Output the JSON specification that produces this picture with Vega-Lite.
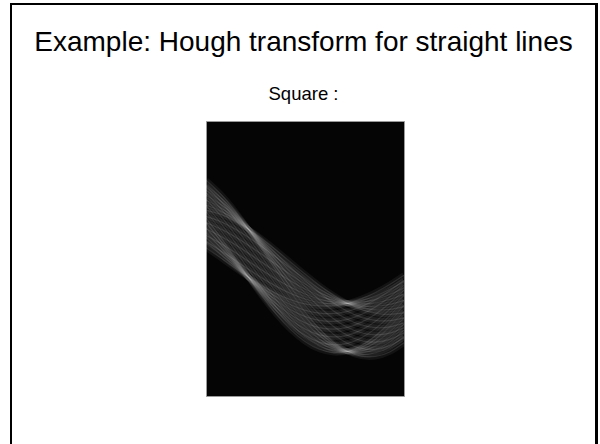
{
  "$schema": "https://vega.github.io/schema/vega-lite/v6.json",
  "width": 198,
  "height": 275,
  "autosize": "none",
  "padding": {"left": 206, "top": 121, "right": 196, "bottom": 48},
  "background": "white",
  "title": {
    "text": "Example: Hough transform for straight lines",
    "subtitle": "Square :",
    "anchor": "middle",
    "frame": "bounds",
    "orient": "top",
    "offset": -100,
    "font": "Liberation Sans",
    "fontSize": 28,
    "fontWeight": "normal",
    "color": "black",
    "subtitleFont": "Liberation Sans",
    "subtitleFontSize": 18.5,
    "subtitleColor": "black",
    "subtitlePadding": 28
  },
  "config": {
    "view": {"fill": "#050505", "stroke": "#9a9a9a", "strokeWidth": 1}
  },
  "data": {
    "values": [
      {"curve": 1, "theta": 0, "rho": 48.34}, {"curve": 1, "theta": 13, "rho": 44.2}, {"curve": 1, "theta": 26, "rho": 37.63}, {"curve": 1, "theta": 38.5, "rho": 29.35}, {"curve": 1, "theta": 51, "rho": 19.53}, {"curve": 1, "theta": 64, "rho": 8.2}, {"curve": 1, "theta": 77, "rho": -3.71}, {"curve": 1, "theta": 90, "rho": -15.58}, {"curve": 1, "theta": 103, "rho": -26.81}, {"curve": 1, "theta": 116, "rho": -36.81}, {"curve": 1, "theta": 128.5, "rho": -44.8}, {"curve": 1, "theta": 141, "rho": -50.81}, {"curve": 1, "theta": 154, "rho": -54.66}, {"curve": 1, "theta": 167, "rho": -55.86}, {"curve": 1, "theta": 180, "rho": -54.34},
      {"curve": 2, "theta": 0, "rho": 53.32}, {"curve": 2, "theta": 13, "rho": 47.64}, {"curve": 2, "theta": 26, "rho": 39.36}, {"curve": 2, "theta": 38.5, "rho": 29.35}, {"curve": 2, "theta": 51, "rho": 17.8}, {"curve": 2, "theta": 64, "rho": 4.76}, {"curve": 2, "theta": 77, "rho": -8.69}, {"curve": 2, "theta": 90, "rho": -21.84}, {"curve": 2, "theta": 103, "rho": -34.03}, {"curve": 2, "theta": 116, "rho": -44.62}, {"curve": 2, "theta": 128.5, "rho": -52.8}, {"curve": 2, "theta": 141, "rho": -58.62}, {"curve": 2, "theta": 154, "rho": -61.88}, {"curve": 2, "theta": 167, "rho": -62.12}, {"curve": 2, "theta": 180, "rho": -59.32},
      {"curve": 3, "theta": 0, "rho": 58.3}, {"curve": 3, "theta": 13, "rho": 51.09}, {"curve": 3, "theta": 26, "rho": 41.09}, {"curve": 3, "theta": 38.5, "rho": 29.35}, {"curve": 3, "theta": 51, "rho": 16.07}, {"curve": 3, "theta": 64, "rho": 1.31}, {"curve": 3, "theta": 77, "rho": -13.67}, {"curve": 3, "theta": 90, "rho": -28.1}, {"curve": 3, "theta": 103, "rho": -41.25}, {"curve": 3, "theta": 116, "rho": -52.43}, {"curve": 3, "theta": 128.5, "rho": -60.8}, {"curve": 3, "theta": 141, "rho": -66.43}, {"curve": 3, "theta": 154, "rho": -69.1}, {"curve": 3, "theta": 167, "rho": -68.38}, {"curve": 3, "theta": 180, "rho": -64.3},
      {"curve": 4, "theta": 0, "rho": 63.28}, {"curve": 4, "theta": 13, "rho": 54.53}, {"curve": 4, "theta": 26, "rho": 42.83}, {"curve": 4, "theta": 38.5, "rho": 29.35}, {"curve": 4, "theta": 51, "rho": 14.34}, {"curve": 4, "theta": 64, "rho": -2.13}, {"curve": 4, "theta": 77, "rho": -18.65}, {"curve": 4, "theta": 90, "rho": -34.36}, {"curve": 4, "theta": 103, "rho": -48.47}, {"curve": 4, "theta": 116, "rho": -60.24}, {"curve": 4, "theta": 128.5, "rho": -68.8}, {"curve": 4, "theta": 141, "rho": -74.24}, {"curve": 4, "theta": 154, "rho": -76.32}, {"curve": 4, "theta": 167, "rho": -74.64}, {"curve": 4, "theta": 180, "rho": -69.28},
      {"curve": 5, "theta": 0, "rho": 68.26}, {"curve": 5, "theta": 13, "rho": 57.98}, {"curve": 5, "theta": 26, "rho": 44.56}, {"curve": 5, "theta": 38.5, "rho": 29.35}, {"curve": 5, "theta": 51, "rho": 12.61}, {"curve": 5, "theta": 64, "rho": -5.57}, {"curve": 5, "theta": 77, "rho": -23.63}, {"curve": 5, "theta": 90, "rho": -40.62}, {"curve": 5, "theta": 103, "rho": -55.69}, {"curve": 5, "theta": 116, "rho": -68.05}, {"curve": 5, "theta": 128.5, "rho": -76.8}, {"curve": 5, "theta": 141, "rho": -82.05}, {"curve": 5, "theta": 154, "rho": -83.54}, {"curve": 5, "theta": 167, "rho": -80.9}, {"curve": 5, "theta": 180, "rho": -74.26},
      {"curve": 6, "theta": 0, "rho": 73.24}, {"curve": 6, "theta": 13, "rho": 61.42}, {"curve": 6, "theta": 26, "rho": 46.29}, {"curve": 6, "theta": 38.5, "rho": 29.35}, {"curve": 6, "theta": 51, "rho": 10.88}, {"curve": 6, "theta": 64, "rho": -9.02}, {"curve": 6, "theta": 77, "rho": -28.61}, {"curve": 6, "theta": 90, "rho": -46.88}, {"curve": 6, "theta": 103, "rho": -62.91}, {"curve": 6, "theta": 116, "rho": -75.86}, {"curve": 6, "theta": 128.5, "rho": -84.8}, {"curve": 6, "theta": 141, "rho": -89.86}, {"curve": 6, "theta": 154, "rho": -90.76}, {"curve": 6, "theta": 167, "rho": -87.17}, {"curve": 6, "theta": 180, "rho": -79.24},
      {"curve": 7, "theta": 0, "rho": 78.22}, {"curve": 7, "theta": 13, "rho": 64.86}, {"curve": 7, "theta": 26, "rho": 48.02}, {"curve": 7, "theta": 38.5, "rho": 29.35}, {"curve": 7, "theta": 51, "rho": 9.14}, {"curve": 7, "theta": 64, "rho": -12.46}, {"curve": 7, "theta": 77, "rho": -33.58}, {"curve": 7, "theta": 90, "rho": -53.14}, {"curve": 7, "theta": 103, "rho": -70.13}, {"curve": 7, "theta": 116, "rho": -83.66}, {"curve": 7, "theta": 128.5, "rho": -92.8}, {"curve": 7, "theta": 141, "rho": -97.66}, {"curve": 7, "theta": 154, "rho": -97.98}, {"curve": 7, "theta": 167, "rho": -93.43}, {"curve": 7, "theta": 180, "rho": -84.22},
      {"curve": 8, "theta": 0, "rho": 10.78}, {"curve": 8, "theta": 13, "rho": 0.88}, {"curve": 8, "theta": 26, "rho": -9.23}, {"curve": 8, "theta": 38.5, "rho": -18.65}, {"curve": 8, "theta": 51, "rho": -27.32}, {"curve": 8, "theta": 64, "rho": -35.12}, {"curve": 8, "theta": 77, "rho": -41.28}, {"curve": 8, "theta": 90, "rho": -45.46}, {"curve": 8, "theta": 103, "rho": -47.47}, {"curve": 8, "theta": 116, "rho": -47.2}, {"curve": 8, "theta": 128.5, "rho": -44.8}, {"curve": 8, "theta": 141, "rho": -40.42}, {"curve": 8, "theta": 154, "rho": -34.0}, {"curve": 8, "theta": 167, "rho": -25.99}, {"curve": 8, "theta": 180, "rho": -16.78},
      {"curve": 9, "theta": 0, "rho": 15.76}, {"curve": 9, "theta": 13, "rho": 4.32}, {"curve": 9, "theta": 26, "rho": -7.5}, {"curve": 9, "theta": 38.5, "rho": -18.65}, {"curve": 9, "theta": 51, "rho": -29.05}, {"curve": 9, "theta": 64, "rho": -38.56}, {"curve": 9, "theta": 77, "rho": -46.26}, {"curve": 9, "theta": 90, "rho": -51.72}, {"curve": 9, "theta": 103, "rho": -54.69}, {"curve": 9, "theta": 116, "rho": -55.01}, {"curve": 9, "theta": 128.5, "rho": -52.8}, {"curve": 9, "theta": 141, "rho": -48.23}, {"curve": 9, "theta": 154, "rho": -41.22}, {"curve": 9, "theta": 167, "rho": -32.25}, {"curve": 9, "theta": 180, "rho": -21.76},
      {"curve": 10, "theta": 0, "rho": 20.74}, {"curve": 10, "theta": 13, "rho": 7.77}, {"curve": 10, "theta": 26, "rho": -5.77}, {"curve": 10, "theta": 38.5, "rho": -18.65}, {"curve": 10, "theta": 51, "rho": -30.78}, {"curve": 10, "theta": 64, "rho": -42.01}, {"curve": 10, "theta": 77, "rho": -51.24}, {"curve": 10, "theta": 90, "rho": -57.98}, {"curve": 10, "theta": 103, "rho": -61.91}, {"curve": 10, "theta": 116, "rho": -62.82}, {"curve": 10, "theta": 128.5, "rho": -60.8}, {"curve": 10, "theta": 141, "rho": -56.04}, {"curve": 10, "theta": 154, "rho": -48.44}, {"curve": 10, "theta": 167, "rho": -38.51}, {"curve": 10, "theta": 180, "rho": -26.74},
      {"curve": 11, "theta": 0, "rho": 25.72}, {"curve": 11, "theta": 13, "rho": 11.21}, {"curve": 11, "theta": 26, "rho": -4.03}, {"curve": 11, "theta": 38.5, "rho": -18.65}, {"curve": 11, "theta": 51, "rho": -32.51}, {"curve": 11, "theta": 64, "rho": -45.45}, {"curve": 11, "theta": 77, "rho": -56.22}, {"curve": 11, "theta": 90, "rho": -64.24}, {"curve": 11, "theta": 103, "rho": -69.13}, {"curve": 11, "theta": 116, "rho": -70.63}, {"curve": 11, "theta": 128.5, "rho": -68.8}, {"curve": 11, "theta": 141, "rho": -63.85}, {"curve": 11, "theta": 154, "rho": -55.66}, {"curve": 11, "theta": 167, "rho": -44.77}, {"curve": 11, "theta": 180, "rho": -31.72},
      {"curve": 12, "theta": 0, "rho": 30.7}, {"curve": 12, "theta": 13, "rho": 14.66}, {"curve": 12, "theta": 26, "rho": -2.3}, {"curve": 12, "theta": 38.5, "rho": -18.65}, {"curve": 12, "theta": 51, "rho": -34.24}, {"curve": 12, "theta": 64, "rho": -48.89}, {"curve": 12, "theta": 77, "rho": -61.2}, {"curve": 12, "theta": 90, "rho": -70.5}, {"curve": 12, "theta": 103, "rho": -76.35}, {"curve": 12, "theta": 116, "rho": -78.44}, {"curve": 12, "theta": 128.5, "rho": -76.8}, {"curve": 12, "theta": 141, "rho": -71.66}, {"curve": 12, "theta": 154, "rho": -62.88}, {"curve": 12, "theta": 167, "rho": -51.03}, {"curve": 12, "theta": 180, "rho": -36.7},
      {"curve": 13, "theta": 0, "rho": 35.68}, {"curve": 13, "theta": 13, "rho": 18.1}, {"curve": 13, "theta": 26, "rho": -0.57}, {"curve": 13, "theta": 38.5, "rho": -18.65}, {"curve": 13, "theta": 51, "rho": -35.97}, {"curve": 13, "theta": 64, "rho": -52.34}, {"curve": 13, "theta": 77, "rho": -66.18}, {"curve": 13, "theta": 90, "rho": -76.76}, {"curve": 13, "theta": 103, "rho": -83.57}, {"curve": 13, "theta": 116, "rho": -86.25}, {"curve": 13, "theta": 128.5, "rho": -84.8}, {"curve": 13, "theta": 141, "rho": -79.47}, {"curve": 13, "theta": 154, "rho": -70.1}, {"curve": 13, "theta": 167, "rho": -57.3}, {"curve": 13, "theta": 180, "rho": -41.68},
      {"curve": 14, "theta": 0, "rho": 40.66}, {"curve": 14, "theta": 13, "rho": 21.54}, {"curve": 14, "theta": 26, "rho": 1.16}, {"curve": 14, "theta": 38.5, "rho": -18.65}, {"curve": 14, "theta": 51, "rho": -37.71}, {"curve": 14, "theta": 64, "rho": -55.78}, {"curve": 14, "theta": 77, "rho": -71.15}, {"curve": 14, "theta": 90, "rho": -83.02}, {"curve": 14, "theta": 103, "rho": -90.79}, {"curve": 14, "theta": 116, "rho": -94.05}, {"curve": 14, "theta": 128.5, "rho": -92.8}, {"curve": 14, "theta": 141, "rho": -87.27}, {"curve": 14, "theta": 154, "rho": -77.32}, {"curve": 14, "theta": 167, "rho": -63.56}, {"curve": 14, "theta": 180, "rho": -46.66},
      {"curve": 15, "theta": 0, "rho": 42.08}, {"curve": 15, "theta": 13, "rho": 36.98}, {"curve": 15, "theta": 26, "rho": 29.82}, {"curve": 15, "theta": 38.5, "rho": 21.35}, {"curve": 15, "theta": 51, "rho": 11.72}, {"curve": 15, "theta": 64, "rho": 0.98}, {"curve": 15, "theta": 77, "rho": -9.97}, {"curve": 15, "theta": 90, "rho": -20.56}, {"curve": 15, "theta": 103, "rho": -30.25}, {"curve": 15, "theta": 116, "rho": -38.54}, {"curve": 15, "theta": 128.5, "rho": -44.8}, {"curve": 15, "theta": 141, "rho": -49.08}, {"curve": 15, "theta": 154, "rho": -51.22}, {"curve": 15, "theta": 167, "rho": -50.88}, {"curve": 15, "theta": 180, "rho": -48.08},
      {"curve": 16, "theta": 0, "rho": 35.82}, {"curve": 16, "theta": 13, "rho": 29.76}, {"curve": 16, "theta": 26, "rho": 22.01}, {"curve": 16, "theta": 38.5, "rho": 13.35}, {"curve": 16, "theta": 51, "rho": 3.91}, {"curve": 16, "theta": 64, "rho": -6.24}, {"curve": 16, "theta": 77, "rho": -16.23}, {"curve": 16, "theta": 90, "rho": -25.54}, {"curve": 16, "theta": 103, "rho": -33.7}, {"curve": 16, "theta": 116, "rho": -40.27}, {"curve": 16, "theta": 128.5, "rho": -44.8}, {"curve": 16, "theta": 141, "rho": -47.35}, {"curve": 16, "theta": 154, "rho": -47.77}, {"curve": 16, "theta": 167, "rho": -45.9}, {"curve": 16, "theta": 180, "rho": -41.82},
      {"curve": 17, "theta": 0, "rho": 29.56}, {"curve": 17, "theta": 13, "rho": 22.54}, {"curve": 17, "theta": 26, "rho": 14.2}, {"curve": 17, "theta": 38.5, "rho": 5.35}, {"curve": 17, "theta": 51, "rho": -3.9}, {"curve": 17, "theta": 64, "rho": -13.46}, {"curve": 17, "theta": 77, "rho": -22.49}, {"curve": 17, "theta": 90, "rho": -30.52}, {"curve": 17, "theta": 103, "rho": -37.14}, {"curve": 17, "theta": 116, "rho": -42.01}, {"curve": 17, "theta": 128.5, "rho": -44.8}, {"curve": 17, "theta": 141, "rho": -45.62}, {"curve": 17, "theta": 154, "rho": -44.33}, {"curve": 17, "theta": 167, "rho": -40.92}, {"curve": 17, "theta": 180, "rho": -35.56},
      {"curve": 18, "theta": 0, "rho": 23.3}, {"curve": 18, "theta": 13, "rho": 15.32}, {"curve": 18, "theta": 26, "rho": 6.39}, {"curve": 18, "theta": 38.5, "rho": -2.65}, {"curve": 18, "theta": 51, "rho": -11.71}, {"curve": 18, "theta": 64, "rho": -20.68}, {"curve": 18, "theta": 77, "rho": -28.75}, {"curve": 18, "theta": 90, "rho": -35.5}, {"curve": 18, "theta": 103, "rho": -40.59}, {"curve": 18, "theta": 116, "rho": -43.74}, {"curve": 18, "theta": 128.5, "rho": -44.8}, {"curve": 18, "theta": 141, "rho": -43.89}, {"curve": 18, "theta": 154, "rho": -40.89}, {"curve": 18, "theta": 167, "rho": -35.94}, {"curve": 18, "theta": 180, "rho": -29.3},
      {"curve": 19, "theta": 0, "rho": 17.04}, {"curve": 19, "theta": 13, "rho": 8.1}, {"curve": 19, "theta": 26, "rho": -1.42}, {"curve": 19, "theta": 38.5, "rho": -10.65}, {"curve": 19, "theta": 51, "rho": -19.52}, {"curve": 19, "theta": 64, "rho": -27.9}, {"curve": 19, "theta": 77, "rho": -35.02}, {"curve": 19, "theta": 90, "rho": -40.48}, {"curve": 19, "theta": 103, "rho": -44.03}, {"curve": 19, "theta": 116, "rho": -45.47}, {"curve": 19, "theta": 128.5, "rho": -44.8}, {"curve": 19, "theta": 141, "rho": -42.16}, {"curve": 19, "theta": 154, "rho": -37.44}, {"curve": 19, "theta": 167, "rho": -30.96}, {"curve": 19, "theta": 180, "rho": -23.04},
      {"curve": 20, "theta": 0, "rho": 71.96}, {"curve": 20, "theta": 13, "rho": 57.64}, {"curve": 20, "theta": 26, "rho": 40.21}, {"curve": 20, "theta": 38.5, "rho": 21.35}, {"curve": 20, "theta": 51, "rho": 1.33}, {"curve": 20, "theta": 64, "rho": -19.68}, {"curve": 20, "theta": 77, "rho": -39.84}, {"curve": 20, "theta": 90, "rho": -58.12}, {"curve": 20, "theta": 103, "rho": -73.57}, {"curve": 20, "theta": 116, "rho": -85.39}, {"curve": 20, "theta": 128.5, "rho": -92.8}, {"curve": 20, "theta": 141, "rho": -95.93}, {"curve": 20, "theta": 154, "rho": -94.54}, {"curve": 20, "theta": 167, "rho": -88.45}, {"curve": 20, "theta": 180, "rho": -77.96},
      {"curve": 21, "theta": 0, "rho": 65.7}, {"curve": 21, "theta": 13, "rho": 50.42}, {"curve": 21, "theta": 26, "rho": 32.4}, {"curve": 21, "theta": 38.5, "rho": 13.35}, {"curve": 21, "theta": 51, "rho": -6.48}, {"curve": 21, "theta": 64, "rho": -26.9}, {"curve": 21, "theta": 77, "rho": -46.1}, {"curve": 21, "theta": 90, "rho": -63.1}, {"curve": 21, "theta": 103, "rho": -77.02}, {"curve": 21, "theta": 116, "rho": -87.12}, {"curve": 21, "theta": 128.5, "rho": -92.8}, {"curve": 21, "theta": 141, "rho": -94.2}, {"curve": 21, "theta": 154, "rho": -91.09}, {"curve": 21, "theta": 167, "rho": -83.47}, {"curve": 21, "theta": 180, "rho": -71.7},
      {"curve": 22, "theta": 0, "rho": 59.44}, {"curve": 22, "theta": 13, "rho": 43.2}, {"curve": 22, "theta": 26, "rho": 24.59}, {"curve": 22, "theta": 38.5, "rho": 5.35}, {"curve": 22, "theta": 51, "rho": -14.29}, {"curve": 22, "theta": 64, "rho": -34.12}, {"curve": 22, "theta": 77, "rho": -52.36}, {"curve": 22, "theta": 90, "rho": -68.08}, {"curve": 22, "theta": 103, "rho": -80.46}, {"curve": 22, "theta": 116, "rho": -88.86}, {"curve": 22, "theta": 128.5, "rho": -92.8}, {"curve": 22, "theta": 141, "rho": -92.47}, {"curve": 22, "theta": 154, "rho": -87.65}, {"curve": 22, "theta": 167, "rho": -78.49}, {"curve": 22, "theta": 180, "rho": -65.44},
      {"curve": 23, "theta": 0, "rho": 53.18}, {"curve": 23, "theta": 13, "rho": 35.98}, {"curve": 23, "theta": 26, "rho": 16.78}, {"curve": 23, "theta": 38.5, "rho": -2.65}, {"curve": 23, "theta": 51, "rho": -22.1}, {"curve": 23, "theta": 64, "rho": -41.34}, {"curve": 23, "theta": 77, "rho": -58.62}, {"curve": 23, "theta": 90, "rho": -73.06}, {"curve": 23, "theta": 103, "rho": -83.91}, {"curve": 23, "theta": 116, "rho": -90.59}, {"curve": 23, "theta": 128.5, "rho": -92.8}, {"curve": 23, "theta": 141, "rho": -90.74}, {"curve": 23, "theta": 154, "rho": -84.21}, {"curve": 23, "theta": 167, "rho": -73.51}, {"curve": 23, "theta": 180, "rho": -59.18},
      {"curve": 24, "theta": 0, "rho": 46.92}, {"curve": 24, "theta": 13, "rho": 28.76}, {"curve": 24, "theta": 26, "rho": 8.97}, {"curve": 24, "theta": 38.5, "rho": -10.65}, {"curve": 24, "theta": 51, "rho": -29.9}, {"curve": 24, "theta": 64, "rho": -48.56}, {"curve": 24, "theta": 77, "rho": -64.89}, {"curve": 24, "theta": 90, "rho": -78.04}, {"curve": 24, "theta": 103, "rho": -87.35}, {"curve": 24, "theta": 116, "rho": -92.32}, {"curve": 24, "theta": 128.5, "rho": -92.8}, {"curve": 24, "theta": 141, "rho": -89.01}, {"curve": 24, "theta": 154, "rho": -80.76}, {"curve": 24, "theta": 167, "rho": -68.53}, {"curve": 24, "theta": 180, "rho": -52.92}
    ]
  },
  "layer": [
    {
      "mark": {"type": "rect", "filled": false, "stroke": "black", "strokeWidth": 2, "clip": false},
      "encoding": {
        "x": {"datum": -177.27, "type": "quantitative", "scale": {"domain": [0, 180], "nice": false, "zero": false}, "axis": null},
        "x2": {"datum": 354.55},
        "y": {"datum": 254.5, "type": "quantitative", "scale": {"domain": [-137.5, 137.5], "nice": false, "zero": false}, "axis": null},
        "y2": {"datum": -211.5}
      }
    },
    {
      "mark": {"type": "line", "stroke": "white", "strokeWidth": 6, "opacity": 0.06, "interpolate": "natural", "clip": true},
      "encoding": {
        "x": {"field": "theta", "type": "quantitative", "scale": {"domain": [0, 180], "nice": false, "zero": false}, "axis": null},
        "y": {"field": "rho", "type": "quantitative", "scale": {"domain": [-137.5, 137.5], "nice": false, "zero": false}, "axis": null},
        "detail": {"field": "curve", "type": "nominal"}
      }
    },
    {
      "mark": {"type": "line", "stroke": "white", "strokeWidth": 1.2, "opacity": 0.11, "interpolate": "natural", "clip": true},
      "encoding": {
        "x": {"field": "theta", "type": "quantitative", "scale": {"domain": [0, 180], "nice": false, "zero": false}, "axis": null},
        "y": {"field": "rho", "type": "quantitative", "scale": {"domain": [-137.5, 137.5], "nice": false, "zero": false}, "axis": null},
        "detail": {"field": "curve", "type": "nominal"}
      }
    }
  ]
}
